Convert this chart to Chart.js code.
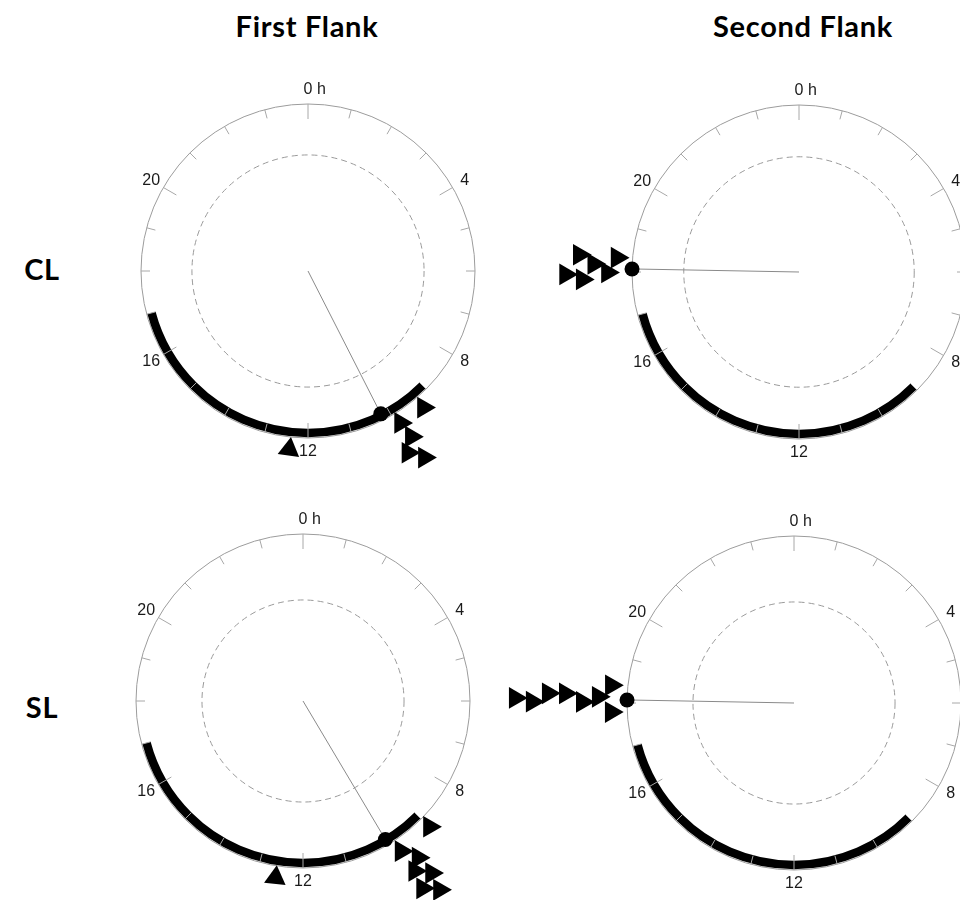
<!DOCTYPE html>
<html>
<head>
<meta charset="utf-8">
<script src="https://cdn.jsdelivr.net/npm/chart.js@4.4.1/dist/chart.umd.min.js"></script>
<style>
  html, body { margin: 0; padding: 0; width: 960px; height: 900px; overflow: hidden; background: #fff; }
  #wrap { position: relative; width: 960px; height: 900px; overflow: hidden; }
  #wrap canvas { position: absolute; }
  .head { position: absolute; font-family: Lato, "Open Sans", sans-serif; font-weight: 700;
          font-size: 29px; letter-spacing: 0.7px; color: #000; transform: translate(-50%, -50%); white-space: nowrap; }
</style>
</head>
<body>
<div id="wrap">
  <div class="head" style="left:307px; top:25px;">First Flank</div>
  <div class="head" style="left:803px; top:25px;">Second Flank</div>
  <div class="head" style="left:42px; top:268px;">CL</div>
  <div class="head" style="left:42px; top:706px;">SL</div>
</div>
<script>
// Clock-face tick labels (hours)
const hourTicks = [0, 4, 8, 12, 16, 20];
const hourTickLabels = ['0 h', '4', '8', '12', '16', '20'];

// Panels: CL first flank, CL second flank, SL first flank, SL second flank
const panelNames = ['CL-First', 'CL-Second', 'SL-First', 'SL-Second'];

// Light period drawn as the thick arc (hours)
const lightStart = [9, 9, 9, 9];
const lightEnd = [17, 17, 17, 17];

// Mean vector: direction (hours) and length (fraction of the circle radius)
const meanHour = [10.2, 18.07, 9.95, 18.07];
const meanLength = [0.96, 1.0, 0.965, 1.0];

// Radius of the dashed critical circle
const critRadius = [0.695, 0.69, 0.605, 0.605];

// Individual observations: time (hours) and stacked ring position outside the circle
const clFirstHours  = [9.32, 9.91, 9.87, 10.08, 9.87, 12.4];
const clFirstRings  = [1.071, 1.065, 1.169, 1.242, 1.317, 1.074];
const clSecondHours = [18.3, 18.3, 18.15, 17.99, 17.96, 17.87];
const clSecondRings = [1.093, 1.32, 1.23, 1.147, 1.398, 1.299];
const slFirstHours  = [8.99, 9.79, 9.58, 9.78, 9.55, 9.83, 9.61, 12.59];
const slFirstRings  = [1.068, 1.074, 1.164, 1.218, 1.286, 1.331, 1.395, 1.071];
const slSecondHours = [18.07, 18.02, 18.15, 18.16, 18.02, 18.12, 18.37, 17.81];
const slSecondRings = [1.67, 1.568, 1.473, 1.371, 1.268, 1.173, 1.099, 1.096];

// Marker orientation (degrees): pointing outward-right, except the lone early-afternoon ones
const clFirstRot  = [90, 90, 90, 90, 90, 8];
const clSecondRot = [90, 90, 90, 90, 90, 90];
const slFirstRot  = [90, 90, 90, 90, 90, 90, 90, 6];
const slSecondRot = [90, 90, 90, 90, 90, 90, 90, 90];

const obsHours = [clFirstHours, clSecondHours, slFirstHours, slSecondHours];
const obsRings = [clFirstRings, clSecondRings, slFirstRings, slSecondRings];
const obsRot = [clFirstRot, clSecondRot, slFirstRot, slSecondRot];

// Panel placement (circle centre on the page) and circle radius in pixels
const panelCentres = [[308, 271], [799, 272], [303, 701], [794, 703]];
const CIRCLE_PX = 167;
const SIZE = 620;
const LIMIT = (SIZE / 2) / CIRCLE_PX;

const toXY = (h, r) => ({ x: r * Math.sin(h * Math.PI / 12), y: r * Math.cos(h * Math.PI / 12) });

// Draws the 24 h dial: outline, dashed critical circle, light arc, hour ticks and labels
const clockFace = {
  id: 'clockFace',
  beforeDatasetsDraw(chart, args, opts) {
    const { ctx } = chart;
    const xs = chart.scales.x, ys = chart.scales.y;
    const cx = xs.getPixelForValue(0), cy = ys.getPixelForValue(0);
    const unit = xs.getPixelForValue(1) - cx;
    const ang = h => (h / 24) * 2 * Math.PI - Math.PI / 2;
    ctx.save();

    ctx.strokeStyle = '#9c9c9c';
    ctx.lineWidth = 1;
    ctx.beginPath();
    ctx.arc(cx, cy, unit, 0, 2 * Math.PI);
    ctx.stroke();

    ctx.setLineDash([6, 4]);
    ctx.strokeStyle = '#9a9a9a';
    ctx.beginPath();
    ctx.arc(cx, cy, unit * opts.crit, 0, 2 * Math.PI);
    ctx.stroke();
    ctx.setLineDash([]);

    ctx.strokeStyle = '#000';
    ctx.lineWidth = 8.5;
    ctx.lineCap = 'butt';
    ctx.beginPath();
    ctx.arc(cx, cy, unit - 5, ang(opts.on), ang(opts.off));
    ctx.stroke();

    ctx.strokeStyle = '#a8a8a8';
    ctx.lineWidth = 1;
    for (let h = 0; h < 24; h++) {
      const len = hourTicks.includes(h) ? 15 : 9;
      const a = ang(h);
      ctx.beginPath();
      ctx.moveTo(cx + Math.cos(a) * unit, cy + Math.sin(a) * unit);
      ctx.lineTo(cx + Math.cos(a) * (unit - len), cy + Math.sin(a) * (unit - len));
      ctx.stroke();
    }

    ctx.fillStyle = '#1a1a1a';
    ctx.font = '16px "Liberation Sans", Arial, sans-serif';
    ctx.textBaseline = 'middle';
    hourTicks.forEach((h, i) => {
      const a = ang(h);
      const lx = cx + Math.cos(a) * (unit + 14);
      const ly = cy + Math.sin(a) * (unit + 14);
      const txt = hourTickLabels[i];
      if (txt.indexOf(' ') > 0) {
        const first = txt.split(' ')[0];
        ctx.textAlign = 'left';
        ctx.fillText(txt, lx - ctx.measureText(first).width / 2, ly);
      } else {
        ctx.textAlign = 'center';
        ctx.fillText(txt, lx, ly);
      }
    });
    ctx.restore();
  }
};

const wrap = document.getElementById('wrap');
panelNames.forEach((name, p) => {
  const canvas = document.createElement('canvas');
  canvas.width = SIZE;
  canvas.height = SIZE;
  canvas.style.left = (panelCentres[p][0] - SIZE / 2) + 'px';
  canvas.style.top = (panelCentres[p][1] - SIZE / 2) + 'px';
  canvas.setAttribute('aria-label', name);
  wrap.appendChild(canvas);

  const obs = obsHours[p].map((h, i) => toXY(h, obsRings[p][i]));
  const mean = toXY(meanHour[p], meanLength[p]);

  new Chart(canvas, {
    type: 'scatter',
    data: {
      datasets: [
        { label: 'observations', data: obs, pointStyle: 'triangle', rotation: obsRot[p],
          pointRadius: 12.5, backgroundColor: '#000', borderWidth: 0, order: 1, clip: false },
        { label: 'mean', data: [mean], pointStyle: 'circle', pointRadius: 7.5,
          backgroundColor: '#000', borderWidth: 0, order: 2, clip: false },
        { label: 'vector', data: [{ x: 0, y: 0 }, mean], showLine: true, borderColor: '#8a8a8a',
          borderWidth: 1, pointRadius: 0, order: 3 }
      ]
    },
    options: {
      responsive: false,
      animation: false,
      events: [],
      layout: { padding: 0, autoPadding: false },
      plugins: {
        legend: { display: false },
        tooltip: { enabled: false },
        clockFace: { crit: critRadius[p], on: lightStart[p], off: lightEnd[p] }
      },
      scales: {
        x: { type: 'linear', min: -LIMIT, max: LIMIT, display: false },
        y: { type: 'linear', min: -LIMIT, max: LIMIT, display: false }
      }
    },
    plugins: [clockFace]
  });
});
</script>
</body>
</html>
